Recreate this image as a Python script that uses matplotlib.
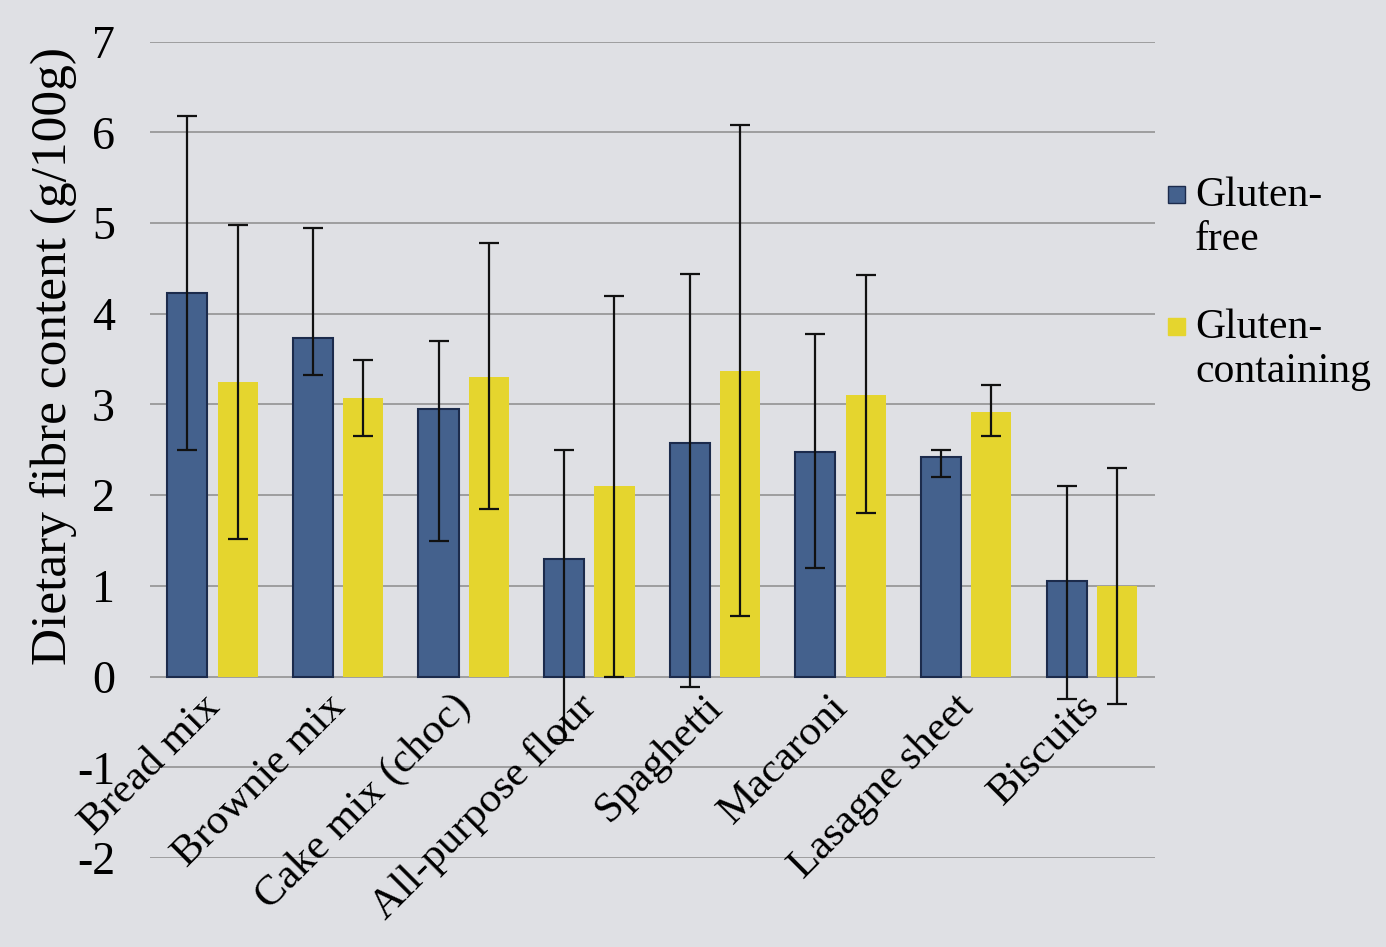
import matplotlib
matplotlib.use("Agg")
import matplotlib.pyplot as plt
import numpy as np
from matplotlib.patches import Rectangle

categories = ["Bread mix", "Brownie mix", "Cake mix (choc)", "All-purpose flour",
              "Spaghetti", "Macaroni", "Lasagne sheet", "Biscuits"]

# mean values and the ends of the error bars (g/100g)
gf_mean = [4.23, 3.73, 2.95, 1.30, 2.58, 2.48, 2.42, 1.05]
gf_low = [2.50, 3.32, 1.50, -0.70, -0.12, 1.20, 2.20, -0.25]
gf_high = [6.18, 4.95, 3.70, 2.50, 4.44, 3.78, 2.50, 2.10]

gc_mean = [3.25, 3.07, 3.30, 2.10, 3.37, 3.10, 2.92, 1.00]
gc_low = [1.52, 2.65, 1.85, 0.00, 0.67, 1.80, 2.65, -0.30]
gc_high = [4.98, 3.49, 4.78, 4.20, 6.08, 4.43, 3.22, 2.30]

series_names = ["Gluten-\nfree", "Gluten-\ncontaining"]
yticks = list(range(-2, 8))

bg = "#dfe0e4"
blue = "#44618d"
yellow = "#e5d52e"

plt.rcParams["font.family"] = ["Liberation Serif", "DejaVu Serif"]

fig = plt.figure(figsize=(13.86, 9.47), dpi=100, facecolor=bg)
ax = fig.add_axes([0.108, 0.094, 0.725, 0.862])
ax.set_facecolor(bg)

x = np.arange(len(categories))
w = 0.32
gf_mean_a = np.array(gf_mean)
gc_mean_a = np.array(gc_mean)
gf_err = [gf_mean_a - np.array(gf_low), np.array(gf_high) - gf_mean_a]
gc_err = [gc_mean_a - np.array(gc_low), np.array(gc_high) - gc_mean_a]

ax.bar(x - 0.2, gf_mean, w, color=blue, edgecolor="#1c2b4c", linewidth=1.5, zorder=3)
ax.bar(x + 0.2, gc_mean, w, color=yellow, linewidth=0, zorder=3)
ax.errorbar(x - 0.2, gf_mean, yerr=gf_err, fmt="none", ecolor="#111111",
            elinewidth=1.6, capsize=7, capthick=1.6, zorder=4)
ax.errorbar(x + 0.2, gc_mean, yerr=gc_err, fmt="none", ecolor="#111111",
            elinewidth=1.6, capsize=7, capthick=1.6, zorder=4)

ax.set_xlim(-0.5, len(categories) - 0.5)
ax.set_ylim(-2, 7)
ax.set_yticks(yticks)
ax.set_yticklabels([str(t) for t in yticks], fontsize=33)
ax.tick_params(axis="y", length=0, pad=25)
ax.set_xticks([])
ax.yaxis.grid(True, color="#8c8c8c", linewidth=1.1, zorder=0)
ax.set_axisbelow(True)
for s in ax.spines.values():
    s.set_visible(False)

for i, c in enumerate(categories):
    ax.text(i + 0.12, -0.12, c, rotation=45, ha="right", va="top",
            fontsize=31, zorder=5)

fig.text(54 / 1386, 1 - 356 / 947, "Dietary fibre content (g/100g)",
         rotation=90, ha="center", va="center", fontsize=37)

# legend: square marker next to the first line of each label
for (name, col, edge, ytop) in [(series_names[0], blue, "#1c2b4c", 176),
                               (series_names[1], yellow, yellow, 308)]:
    fig.add_artist(Rectangle((1168 / 1386, 1 - (ytop + 27) / 947), 17 / 1386, 17 / 947,
                             transform=fig.transFigure, facecolor=col,
                             edgecolor=edge, linewidth=1))
    fig.text(1195 / 1386, 1 - ytop / 947, name, ha="left", va="top",
             fontsize=30, linespacing=1.2)

fig.savefig("out.png", dpi=100, facecolor=bg)
